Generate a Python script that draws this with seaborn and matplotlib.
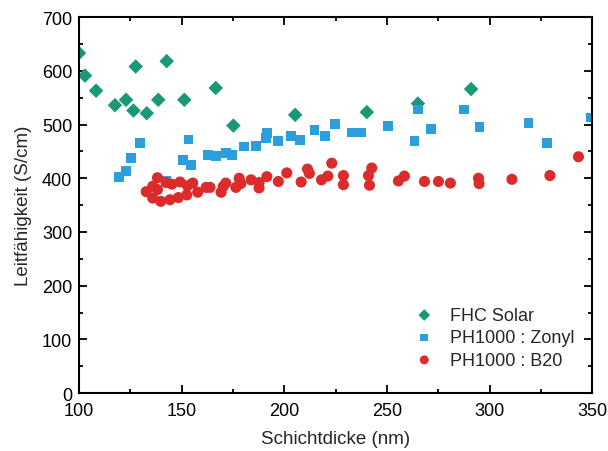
import numpy as np
import pandas as pd
import matplotlib as mpl
import matplotlib.pyplot as plt
import seaborn as sns
from matplotlib.ticker import MultipleLocator

sns.set_style("ticks")
mpl.rcParams['font.family'] = ['Liberation Sans', 'DejaVu Sans']

# FHC Solar
fhc_x = [100, 102.9, 108.3, 117.5, 122.9, 126.5, 127.6, 133.0, 138.6, 142.7,
         151.3, 166.6, 175.2, 205.3, 240.2, 265.1, 291.0]
fhc_y = [633, 591, 563, 536, 546, 526, 608, 521, 546, 618,
         546, 568, 498, 518, 523, 539, 566]

# PH1000 : Zonyl
zon_x = [119.5, 122.9, 125.3, 129.7, 142.2, 150.8, 153.3, 154.4, 163.0, 166.8,
         171.6, 174.4, 180.3, 186.3, 190.9, 191.4, 196.8, 203.2, 207.7, 214.7,
         219.7, 224.8, 232.7, 237.3, 250.6, 263.4, 265.1, 271.5, 287.6, 295.1,
         319.0, 327.9, 349.4]
zon_y = [402, 413, 438, 466, 395, 434, 472, 425, 443, 441,
         447, 444, 459, 460, 475, 484, 469, 479, 471, 490,
         479, 501, 485, 485, 497, 470, 528, 492, 528, 496,
         503, 466, 513]

# PH1000 : B20
b20_x = [132.7, 135.9, 135.9, 138.2, 138.2, 139.8, 142.4, 144.3, 145.2, 148.4,
         149.2, 152.5, 152.8, 155.4, 157.8, 161.9, 163.8, 169.2, 170.3, 171.5,
         176.4, 178.0, 178.8, 183.8, 187.7, 187.7, 191.5, 197.1, 201.2, 208.2,
         211.3, 212.2, 218.1, 221.2, 223.1, 228.8, 228.8, 241.0, 241.5, 242.6,
         255.6, 258.5, 268.3, 275.1, 280.9, 294.6, 294.9, 310.9, 329.4, 343.3]
b20_y = [375, 385, 363, 401, 379, 357, 392, 360, 389, 364,
         393, 369, 386, 391, 374, 383, 383, 374, 385, 391,
         383, 400, 390, 397, 392, 382, 403, 394, 410, 393,
         417, 409, 397, 404, 428, 405, 388, 405, 387, 419,
         395, 404, 394, 394, 391, 400, 390, 398, 405, 440]

labels = ['FHC Solar', 'PH1000 : Zonyl', 'PH1000 : B20']
colors = ['#1a9878', '#2a9fdb', '#dc2b2b']
markers = ['D', 's', 'o']
sizes = [55, 50, 64]

fig = plt.figure(figsize=(6.08, 4.52), dpi=100)
ax = fig.add_axes([0.130, 0.128, 0.844, 0.832])

for xs, ys, lab, c, m, s in zip([fhc_x, zon_x, b20_x], [fhc_y, zon_y, b20_y],
                                labels, colors, markers, sizes):
    df = pd.DataFrame({'x': xs, 'y': ys})
    sns.scatterplot(data=df, x='x', y='y', ax=ax, color=c, marker=m, s=s,
                    edgecolor='none', label=lab)

ax.set_xlim(100, 350)
ax.set_ylim(0, 700)
ax.xaxis.set_major_locator(MultipleLocator(50))
ax.xaxis.set_minor_locator(MultipleLocator(25))
ax.yaxis.set_major_locator(MultipleLocator(100))
ax.yaxis.set_minor_locator(MultipleLocator(50))
ax.tick_params(which='both', direction='in', top=True, right=True,
               labelsize=13, width=1.3, colors='black')
ax.tick_params(which='major', length=6)
ax.tick_params(which='minor', length=3)
ax.tick_params(axis='x', pad=6.5)
ax.tick_params(axis='y', pad=5)
for sp in ax.spines.values():
    sp.set_linewidth(1.5)
    sp.set_color('black')

ax.set_xlabel('Schichtdicke (nm)', fontsize=13.5, labelpad=8)
ax.set_ylabel('Leitfähigkeit (S/cm)', fontsize=13.5, labelpad=7)

ax.legend(loc='lower left', bbox_to_anchor=(0.62, 0.022), frameon=False,
          fontsize=13, handletextpad=0.8, labelspacing=0.3, handlelength=1.2,
          markerscale=0.8)

fig.savefig('out.png', dpi=100)
